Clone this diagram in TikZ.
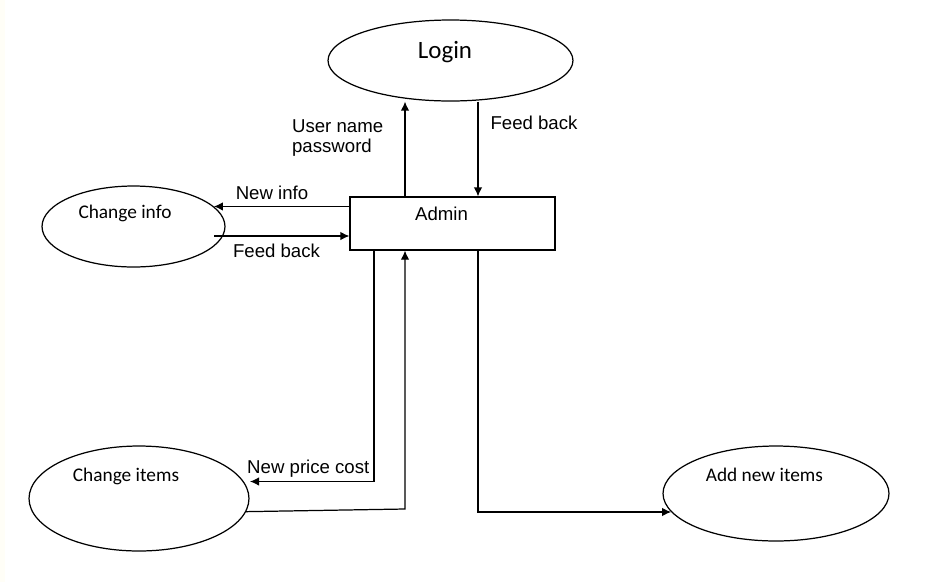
\documentclass[tikz,border=0pt]{standalone}
\usepackage{fontspec}
\setmainfont{Liberation Sans}
\newfontfamily\bubblefont{Carlito}
\usepackage{tikz}
\usetikzlibrary{shapes,arrows.meta}

\begin{document}
\begin{tikzpicture}[x=0.02cm,y=-0.02cm,line width=.7pt,
  bubble/.style={ellipse,draw=black,inner sep=0pt},
  flow/.style={-{Latex[length=1.8mm,width=1.7mm]}},
  lbl/.style={font=\fontsize{10.6}{11.4}\selectfont,inner sep=0pt},
  blbl/.style={font=\bubblefont\fontsize{11}{13}\selectfont,inner sep=0pt}]
\useasboundingbox (0,0) rectangle (946,582);
\fill[white] (0,0) rectangle (946,582);
\fill[black!4!yellow!3] (0,0) rectangle (5,582);
%Node Coordinates
\node at (450.5,60.5) [bubble,minimum width=4.9cm,minimum height=1.62cm] (Login) {};
\node at (452.5,223.5) [rectangle,draw=black,minimum width=4.1cm,minimum height=1.06cm] (Admin) {};
\node at (133.5,226.5) [bubble,minimum width=3.66cm,minimum height=1.62cm] (ChInfo) {};
\node at (139,498.5) [bubble,minimum width=4.4cm,minimum height=2.1cm] (ChItems) {};
\node at (776,493.5) [bubble,minimum width=4.52cm,minimum height=1.9cm] (AddItems) {};
\coordinate (cUser) at (405,0);
\coordinate (cFeed) at (478,0);
\coordinate (cFbStart) at (214,236);
\coordinate (cPrice) at (374,481.5);
\coordinate (cPriceEnd) at (250,481.5);
\coordinate (cItemsTurn) at (405,509);

%Node Labels
\node [blbl,font=\bubblefont\fontsize{14.2}{17}\selectfont] at (445,52.5) {Login};
\node [lbl] at (441.5,213.7) {Admin};
\node [blbl] at (125,213) {Change info};
\node [blbl] at (126,476.7) {Change items};
\node [blbl] at (764.4,474.5) {Add new items};

%Connections
\draw [flow] (Admin.north -| cUser) -- (Login.south -| cUser);
\draw [flow] (Login.south -| cFeed) -- (Admin.north -| cFeed);
\draw [flow] (Admin.west |- ChInfo.14) -- (ChInfo.14);
\draw [flow] (cFbStart) -- (Admin.west |- cFbStart);
\draw [flow] (Admin.south -| cPrice) -- (cPrice) -- (cPriceEnd);
\draw [flow] (ChItems.-7) -- (cItemsTurn) -- (Admin.south -| cItemsTurn);
\draw [flow] (Admin.south -| cFeed) |- (AddItems.190);

%Flow Labels
\node [lbl,anchor=west,align=left] at (291.5,138) {User name\\password};
\node [lbl] at (534,123.3) {Feed back};
\node [lbl] at (272,193) {New info};
\node [lbl] at (276.5,250.5) {Feed back};
\node [lbl] at (308.3,468.5) {New price cost};
\end{tikzpicture}
\end{document}
